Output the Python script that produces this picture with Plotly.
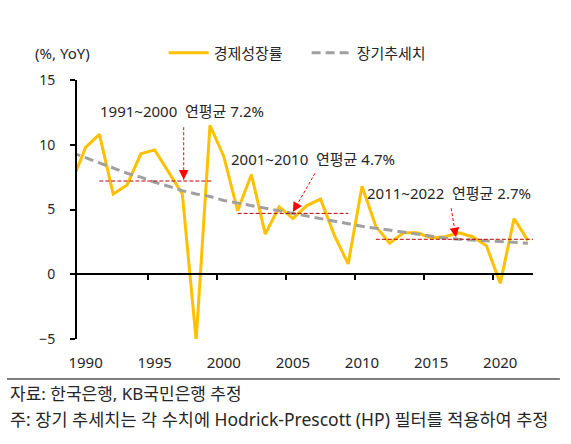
import plotly.graph_objects as go

# ---------------- data ----------------
years = list(range(1989, 2023))
growth = [7.1, 9.8, 10.8, 6.2, 6.9, 9.3, 9.6, 7.9, 6.2, -5.1,
          11.5, 9.1, 4.9, 7.7, 3.1, 5.2, 4.3, 5.3, 5.8, 3.0,
          0.8, 6.8, 3.7, 2.4, 3.2, 3.2, 2.8, 2.9, 3.2, 2.9,
          2.2, -0.7, 4.3, 2.6]
trend = [9.4, 9.0, 8.6, 8.2, 7.8, 7.5, 7.1, 6.8, 6.45, 6.2,
         6.0, 5.7, 5.5, 5.3, 5.05, 4.85, 4.65, 4.45, 4.25, 4.05,
         3.85, 3.7, 3.55, 3.4, 3.2, 3.05, 2.9, 2.8, 2.7, 2.65,
         2.6, 2.5, 2.45, 2.4]
series_names = ["경제성장률", "장기추세치"]

period_labels = ["1991~2000", "2001~2010", "2011~2022"]
period_avg = [7.2, 4.7, 2.7]
period_start = [1991, 2001, 2011]
period_end = [1999.1, 2009.0, 2022.4]

x_tick_vals = [1990, 1995, 2000, 2005, 2010, 2015, 2020]
y_tick_vals = [-5, 0, 5, 10, 15]

unit_label = "(%, YoY)"
source_note = "자료: 한국은행, KB국민은행 추정"
foot_note = "주: 장기 추세치는 각 수치에 Hodrick-Prescott (HP) 필터를 적용하여 추정"

# annotation placement (arrow tail/tip and label anchors)
arrow_tip = [(1997.1, 7.3), (2005.0, 4.8), (2016.8, 2.85)]
arrow_tail = [(1997.1, 11.35), (2006.6, 7.8), (2016.45, 5.1)]
label_pos = [(1990.9, 12.6), (2000.4, 8.9), (2010.2, 6.25)]

FONT = "Noto Sans, Noto Sans CJK KR, sans-serif"
TXT = "#262626"
X_RANGE = [1989.38, 2022.37]

fig = go.Figure()
fig.add_trace(go.Scatter(x=years, y=growth, name=series_names[0], mode="lines",
                         line=dict(color="#FFC000", width=3)))
fig.add_trace(go.Scatter(x=years, y=trend, name=series_names[1], mode="lines",
                         line=dict(color="#A0A0A0", width=3, dash="9px,5px")))
# helper trace for the zero-line axis with ticks
fig.add_trace(go.Scatter(x=[years[1]], y=[None], xaxis="x2", showlegend=False,
                         mode="lines", hoverinfo="skip"))

# period averages
for lab, avg, s, e in zip(period_labels, period_avg, period_start, period_end):
    fig.add_shape(type="line", xref="x", yref="y", x0=s, x1=e, y0=avg, y1=avg,
                  line=dict(color="#C00000", width=1, dash="4px,2px"))

for (tx, ty), (hx, hy) in zip(arrow_tail, arrow_tip):
    fig.add_shape(type="line", xref="x", yref="y", x0=tx, y0=ty, x1=hx, y1=hy,
                  line=dict(color="#FF0000", width=1, dash="3px,2px"))
    fig.add_annotation(x=hx, y=hy, ax=hx + 0.18 * (tx - hx), ay=hy + 0.18 * (ty - hy),
                       axref="x", ayref="y", xref="x", yref="y", text="",
                       showarrow=True, arrowhead=2, arrowsize=1.6, arrowwidth=1.2,
                       arrowcolor="#FF0000")

for lab, avg, (lx, ly) in zip(period_labels, period_avg, label_pos):
    fig.add_annotation(x=lx, y=ly, xref="x", yref="y", xanchor="left", yanchor="middle",
                       text=f"{lab}  연평균 {avg}%", showarrow=False,
                       font=dict(family=FONT, size=15, color=TXT))

# unit label
fig.add_annotation(x=-0.096, y=1.104, xref="paper", yref="paper", xanchor="left",
                   yanchor="middle", text=unit_label, showarrow=False,
                   font=dict(family=FONT, size=15, color=TXT))

# separator + notes
fig.add_shape(type="line", xref="paper", yref="paper", x0=-0.1535, x1=1.059,
              y0=-0.1544, y1=-0.1544, line=dict(color="#000000", width=1))
fig.add_annotation(x=-0.1513, y=-0.2085, xref="paper", yref="paper", xanchor="left",
                   yanchor="middle", text=source_note, showarrow=False,
                   font=dict(family=FONT, size=17, color=TXT))
fig.add_annotation(x=-0.1513, y=-0.3089, xref="paper", yref="paper", xanchor="left",
                   yanchor="middle", text=foot_note, showarrow=False,
                   font=dict(family=FONT, size=17.5, color=TXT))

fig.update_layout(
    width=571, height=444,
    margin=dict(l=77, r=38, t=80, b=105),
    plot_bgcolor="white", paper_bgcolor="white",
    font=dict(family=FONT, color=TXT),
    showlegend=True,
    legend=dict(orientation="h", x=0.19, y=1.104, xanchor="left", yanchor="middle",
                font=dict(family=FONT, size=15, color=TXT), bgcolor="rgba(0,0,0,0)",
                itemwidth=40, entrywidth=88),
    xaxis=dict(range=X_RANGE, tickvals=x_tick_vals, showline=False, showgrid=False,
               zeroline=False, ticks="", ticklabelstandoff=13,
               tickfont=dict(family=FONT, size=15, color=TXT)),
    xaxis2=dict(range=X_RANGE, overlaying="x", anchor="free", position=0.25,
                showline=True, linecolor="black", linewidth=2, showgrid=False,
                zeroline=False, ticks="outside", ticklen=5, tickwidth=2,
                tickcolor="black", tickvals=[v - 0.5 for v in x_tick_vals[1:]],
                showticklabels=False),
    yaxis=dict(range=[-5, 15], tickvals=y_tick_vals, showline=True, linecolor="black",
               linewidth=2, ticks="outside", ticklen=5, tickwidth=2, tickcolor="black",
               showgrid=False, zeroline=False, ticklabelstandoff=12,
               tickfont=dict(family=FONT, size=14, color=TXT)),
)

fig.write_html("out.html")
